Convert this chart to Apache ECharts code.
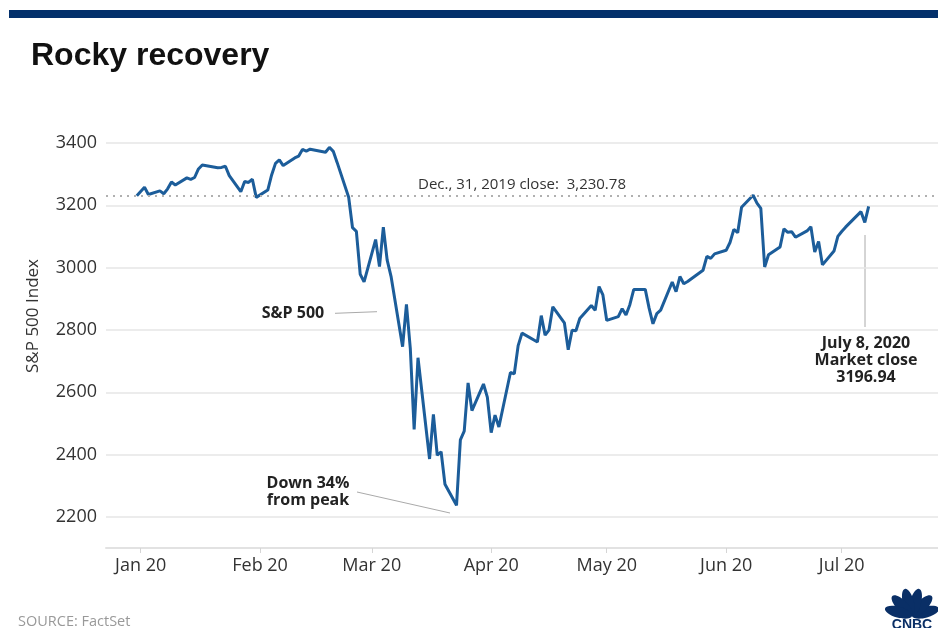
<!DOCTYPE html>
<html>
<head>
<meta charset="utf-8">
<script src="https://cdn.jsdelivr.net/npm/echarts@6/dist/echarts.min.js"></script>
<style>
html,body{margin:0;padding:0;background:#fff;}
#chart{width:938px;height:628px;}
</style>
</head>
<body>
<div id="chart"></div>
<script>
// ---- data ----
var dates = [
'2019-12-31','2020-01-02','2020-01-03','2020-01-06','2020-01-07','2020-01-08','2020-01-09','2020-01-10',
'2020-01-13','2020-01-14','2020-01-15','2020-01-16','2020-01-17','2020-01-21','2020-01-22','2020-01-23',
'2020-01-24','2020-01-27','2020-01-28','2020-01-29','2020-01-30','2020-01-31',
'2020-02-03','2020-02-04','2020-02-05','2020-02-06','2020-02-07','2020-02-10','2020-02-11','2020-02-12',
'2020-02-13','2020-02-14','2020-02-18','2020-02-19','2020-02-20','2020-02-21','2020-02-24','2020-02-25',
'2020-02-26','2020-02-27','2020-02-28',
'2020-03-02','2020-03-03','2020-03-04','2020-03-05','2020-03-06','2020-03-09','2020-03-10','2020-03-11',
'2020-03-12','2020-03-13','2020-03-16','2020-03-17','2020-03-18','2020-03-19','2020-03-20','2020-03-23',
'2020-03-24','2020-03-25','2020-03-26','2020-03-27','2020-03-30','2020-03-31',
'2020-04-01','2020-04-02','2020-04-03','2020-04-06','2020-04-07','2020-04-08','2020-04-09','2020-04-13',
'2020-04-14','2020-04-15','2020-04-16','2020-04-17','2020-04-20','2020-04-21','2020-04-22','2020-04-23',
'2020-04-24','2020-04-27','2020-04-28','2020-04-29','2020-04-30',
'2020-05-01','2020-05-04','2020-05-05','2020-05-06','2020-05-07','2020-05-08','2020-05-11','2020-05-12',
'2020-05-13','2020-05-14','2020-05-15','2020-05-18','2020-05-19','2020-05-20','2020-05-21','2020-05-22',
'2020-05-26','2020-05-27','2020-05-28','2020-05-29',
'2020-06-01','2020-06-02','2020-06-03','2020-06-04','2020-06-05','2020-06-08','2020-06-09','2020-06-10',
'2020-06-11','2020-06-12','2020-06-15','2020-06-16','2020-06-17','2020-06-18','2020-06-19','2020-06-22',
'2020-06-23','2020-06-24','2020-06-25','2020-06-26','2020-06-29','2020-06-30',
'2020-07-01','2020-07-02','2020-07-06','2020-07-07','2020-07-08'
];
var closes = [
3230.78,3257.85,3234.85,3246.28,3237.18,3253.05,3274.70,3265.35,
3288.13,3283.15,3289.29,3316.81,3329.62,3320.79,3321.75,3325.54,
3295.47,3243.63,3276.24,3273.40,3283.66,3225.52,
3248.92,3297.59,3334.69,3345.78,3327.71,3352.09,3357.75,3379.45,
3373.94,3380.16,3370.29,3386.15,3373.23,3337.75,3225.89,3128.21,
3116.39,2978.76,2954.22,
3090.23,3003.37,3130.12,3023.94,2972.37,2746.56,2882.23,2741.38,
2480.64,2711.02,2386.13,2529.19,2398.10,2409.39,2304.92,2237.40,
2447.33,2475.56,2630.07,2541.47,2626.65,2584.59,
2470.50,2526.90,2488.65,2663.68,2659.41,2749.98,2789.82,2761.63,
2846.06,2783.36,2799.55,2874.56,2823.16,2736.56,2799.31,2797.80,
2836.74,2878.48,2863.39,2939.51,2912.43,
2830.71,2842.74,2868.44,2848.42,2881.19,2929.80,2930.19,2870.12,
2820.00,2852.50,2863.70,2953.91,2922.94,2971.61,2948.51,2955.45,
2991.77,3036.13,3029.73,3044.31,
3055.73,3080.82,3122.87,3112.35,3193.93,3232.39,3207.18,3190.14,
3002.10,3041.31,3066.59,3124.74,3113.49,3115.34,3097.74,3117.86,
3131.29,3050.33,3083.76,3009.05,3053.24,3100.29,
3115.86,3130.01,3179.72,3145.32,3196.94
];
var referenceClose = 3230.78;
var tickDates = ['2020-01-01','2020-02-01','2020-03-01','2020-04-01','2020-05-01','2020-06-01','2020-07-01'];
var tickLabels = ['Jan 20','Feb 20','Mar 20','Apr 20','May 20','Jun 20','Jul 20'];
var yTicks = [2200, 2400, 2600, 2800, 3000, 3200, 3400];
var xRange = ['2019-12-23', '2020-07-26'];

// ---- chart ----
function ts(d) { return Date.parse(d + 'T00:00:00Z'); }
var chart = echarts.init(document.getElementById('chart'));
var seriesData = dates.map(function (d, i) { return [ts(d), closes[i]]; });
var tickTimes = tickDates.map(ts);
var FONT = 'Open Sans';
var NAVY = '#0a2f66';

var option = {
  animation: false,
  backgroundColor: '#ffffff',
  grid: { left: 106, right: 0, top: 143, bottom: 111 },
  xAxis: {
    type: 'value',
    min: ts(xRange[0]),
    max: ts(xRange[1]),
    offset: 31,
    axisLine: { show: true, lineStyle: { color: '#e2e2e2', width: 2 } },
    axisTick: { show: true, length: 5, customValues: tickTimes, lineStyle: { color: '#d5d5d5', width: 1 } },
    splitLine: { show: false },
    axisLabel: {
      customValues: tickTimes,
      margin: 9,
      color: '#333',
      fontFamily: FONT,
      fontSize: 18,
      formatter: function (v) {
        var i = tickTimes.indexOf(v);
        return i >= 0 ? tickLabels[i] : '';
      }
    }
  },
  yAxis: {
    type: 'value',
    min: yTicks[0],
    max: yTicks[yTicks.length - 1],
    interval: 200,
    axisLine: { show: false },
    axisTick: { show: false },
    splitLine: { show: true, lineStyle: { color: '#e6e6e6', width: 1.5 } },
    axisLabel: { color: '#333', fontFamily: FONT, fontSize: 18, margin: 9, formatter: function (v) { return String(v); } }
  },
  series: [{
    type: 'line',
    data: seriesData,
    showSymbol: false,
    symbol: 'none',
    lineStyle: { color: '#1c5d9a', width: 3 },
    markLine: {
      silent: true,
      symbol: 'none',
      lineStyle: { color: '#b0b0b0', width: 2, type: [2, 5] },
      label: {
        show: true,
        position: 'insideMiddleTop',
        distance: 4,
        color: '#333',
        fontFamily: FONT,
        fontSize: 15,
        formatter: 'Dec., 31, 2019 close:  3,230.78'
      },
      data: [{ yAxis: referenceClose }]
    }
  }],
  graphic: [
    { type: 'rect', shape: { x: 9, y: 10, width: 929, height: 8 }, style: { fill: '#03306b' } },
    { type: 'text', x: 31, y: 56, style: { text: 'Rocky recovery', font: 'bold 32px "Liberation Sans", Arial, sans-serif', fill: '#111', verticalAlign: 'middle', align: 'left' } },
    { type: 'text', x: 33, y: 316, rotation: Math.PI / 2, style: { text: 'S&P 500 Index', font: '17px "Open Sans"', fill: '#333', align: 'center', verticalAlign: 'middle' } },
    { type: 'text', x: 293, y: 313, style: { text: 'S&P 500', font: 'bold 16px "Open Sans"', fill: '#222', align: 'center', verticalAlign: 'middle' } },
    { type: 'line', shape: { x1: 335, y1: 313.3, x2: 377, y2: 311.7 }, style: { stroke: '#aaa', lineWidth: 1 } },
    { type: 'text', x: 308, y: 492, style: { text: 'Down 34%\nfrom peak', font: 'bold 16px "Open Sans"', lineHeight: 17, fill: '#222', align: 'center', verticalAlign: 'middle' } },
    { type: 'line', shape: { x1: 357, y1: 492, x2: 450, y2: 513 }, style: { stroke: '#aaa', lineWidth: 1 } },
    { type: 'line', shape: { x1: 865, y1: 235, x2: 865, y2: 327 }, style: { stroke: '#aaa', lineWidth: 1 } },
    { type: 'text', x: 866, y: 360, style: { text: 'July 8, 2020\nMarket close\n3196.94', font: 'bold 16px "Open Sans"', lineHeight: 17, fill: '#222', align: 'center', verticalAlign: 'middle' } },
    { type: 'text', x: 18, y: 622, style: { text: 'SOURCE: FactSet', font: '14.5px "Open Sans"', fill: '#999', align: 'left', verticalAlign: 'middle' } },
    {
      type: 'group', x: 912, y: 616,
      children: [
        { type: 'ellipse', shape: { cx: 0, cy: -14, rx: 5.5, ry: 14 }, rotation: -1.30, style: { fill: NAVY } },
        { type: 'ellipse', shape: { cx: 0, cy: -14, rx: 5.5, ry: 14 }, rotation: -0.78, style: { fill: NAVY } },
        { type: 'ellipse', shape: { cx: 0, cy: -14, rx: 5.5, ry: 14 }, rotation: -0.26, style: { fill: NAVY } },
        { type: 'ellipse', shape: { cx: 0, cy: -14, rx: 5.5, ry: 14 }, rotation: 0.26, style: { fill: NAVY } },
        { type: 'ellipse', shape: { cx: 0, cy: -14, rx: 5.5, ry: 14 }, rotation: 0.78, style: { fill: NAVY } },
        { type: 'ellipse', shape: { cx: 0, cy: -14, rx: 5.5, ry: 14 }, rotation: 1.30, style: { fill: NAVY } },
        { type: 'text', x: 0, y: 9, style: { text: 'CNBC', font: 'bold 14px "Liberation Sans", Arial', fill: NAVY, align: 'center', verticalAlign: 'middle' } }
      ]
    }
  ]
};
chart.setOption(option);
</script>
</body>
</html>
